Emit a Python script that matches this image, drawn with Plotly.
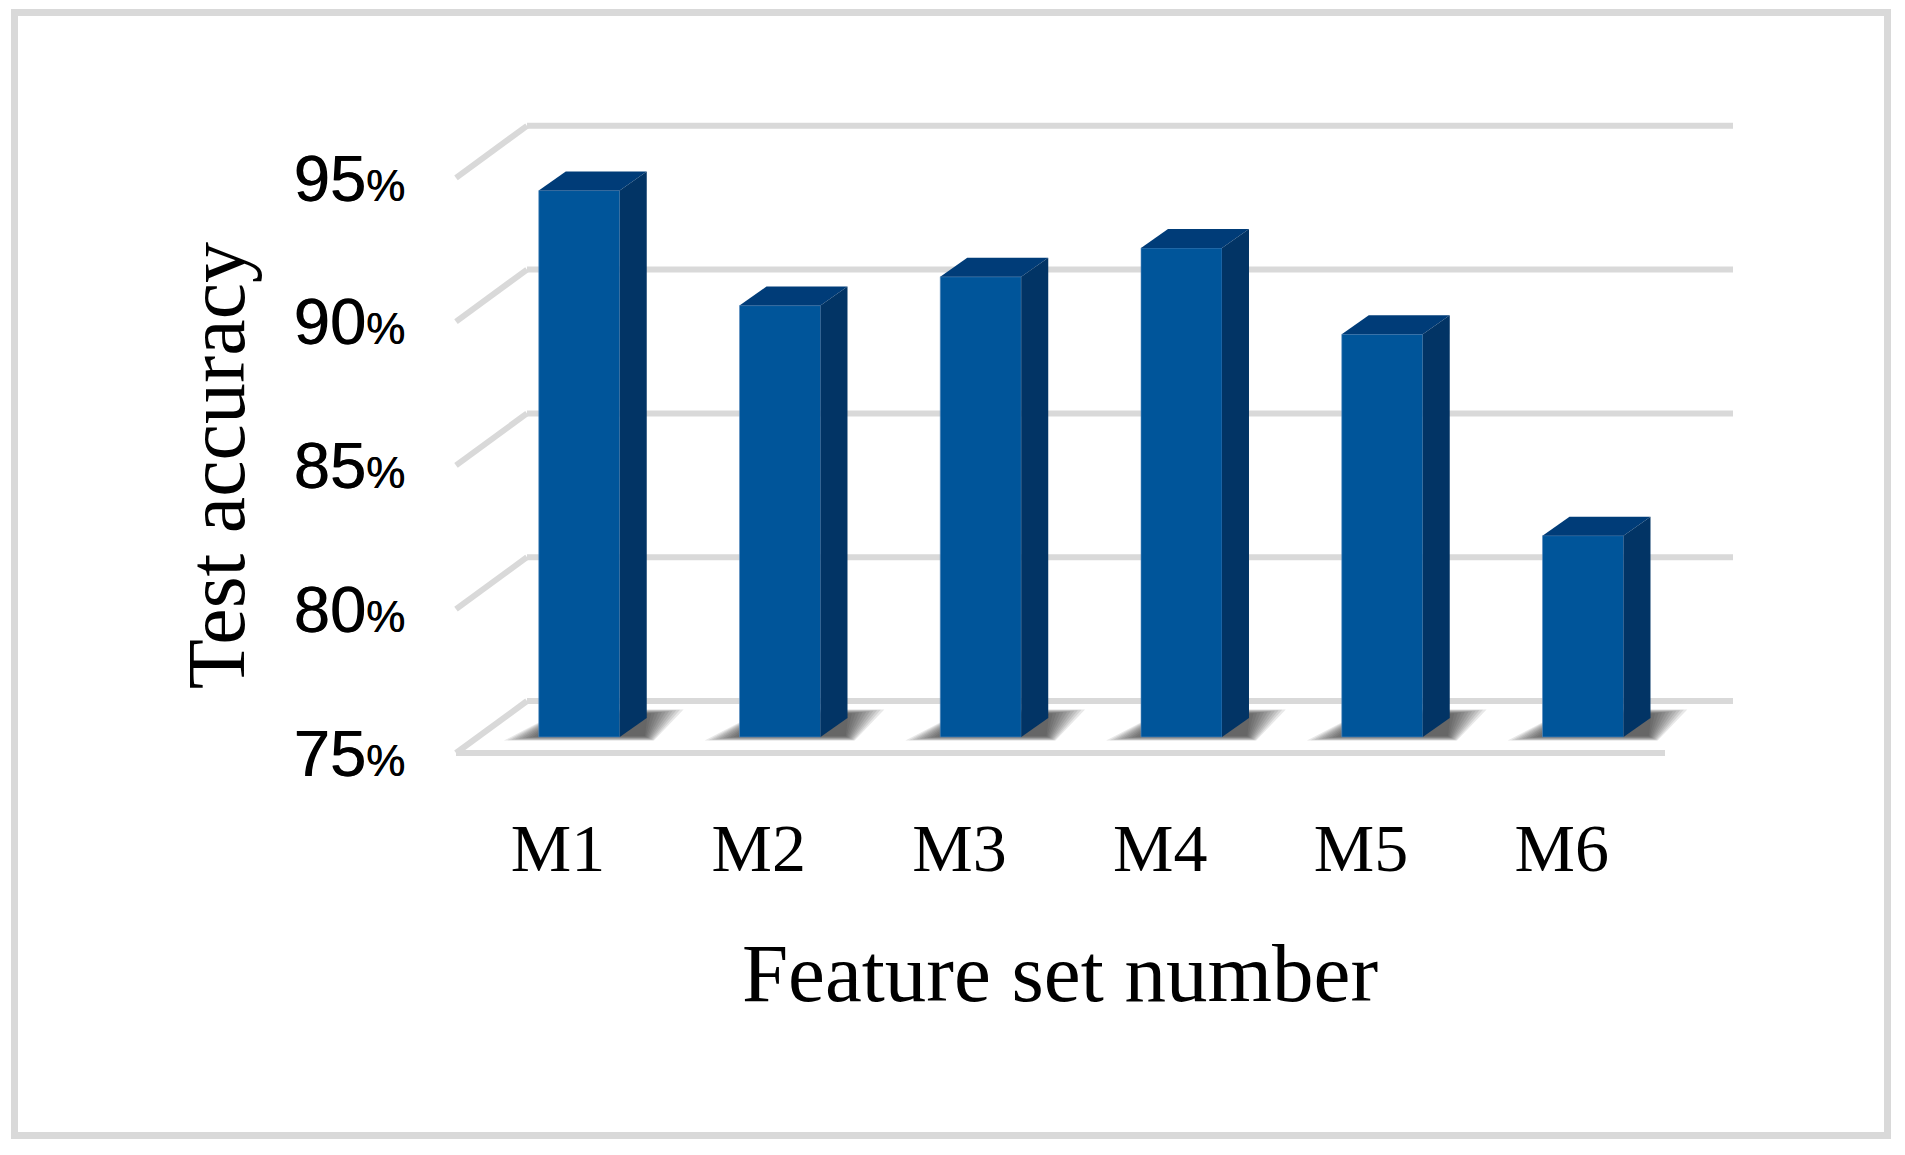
import plotly.graph_objects as go

categories = ["M1", "M2", "M3", "M4", "M5", "M6"]
accuracy = [94, 90, 91, 92, 89, 82]
tick_values = [75, 80, 85, 90, 95]
x_title = "Feature set number"
y_title = "Test accuracy"

W, H = 1905, 1155
L, R, T, B = 380, 1740, 100, 831
PX_X = 200.75      # pixels per category
PX_Y = 28.76       # pixels per percent
X0_PX, Y0_PX = 579.25, 737
BAR_W = 81 / PX_X
DX, DY = 27 / PX_X, 19 / PX_Y   # bar depth
BASE = 75

def xd(px):
    return (px - X0_PX) / PX_X

BACK = 36 / PX_Y
FRONT = -16 / PX_Y
GRID, BLUE, TOP, SIDE = "#d9d9d9", "#00559a", "#003c78", "#023465"

x_range = [xd(L), xd(R)]
y_range = [BASE + (Y0_PX - B) / PX_Y, BASE + (Y0_PX - T) / PX_Y]
xt_shift = (579.25 - 558) / PX_X
x2_range = [x_range[0] + xt_shift, x_range[1] + xt_shift]
y2_range = [y_range[0] - FRONT, y_range[1] - FRONT]
xs = list(range(len(categories)))

def poly(pts, fill, layer="above", opacity=1):
    path = "M " + " L ".join(f"{a:.4f},{b:.4f}" for a, b in pts) + " Z"
    return dict(type="path", path=path, xref="x", yref="y", fillcolor=fill,
                line=dict(width=0), layer=layer, opacity=opacity)

def line(x0, y0, x1, y1):
    return dict(type="line", xref="x", yref="y", x0=x0, y0=y0, x1=x1, y1=y1,
                line=dict(color=GRID, width=6), layer="below")

shapes = [dict(type="rect", xref="paper", yref="paper", x0=14.5 / W, x1=1887.5 / W,
               y0=1 - 1135.5 / H, y1=1 - 12.5 / H, line=dict(color=GRID, width=7),
               fillcolor="rgba(0,0,0,0)", layer="below")]

xl_front, xl_back, xr_back, xr_floor = xd(456), xd(527), xd(1733), xd(1665)
for v in tick_values:
    shapes.append(line(xl_back, v + BACK, xr_back, v + BACK))
    shapes.append(line(xl_front, v + FRONT, xl_back, v + BACK))
shapes.append(line(xl_front, BASE + FRONT, xr_floor, BASE + FRONT))

# soft floor shadows: many nested, faint layers build up a blur
sh_h = 24 / PX_Y
spreads = [24, 21, 18, 15, 12, 9, 6, 3, 0, -3, -6]
for x, v in zip(xs, accuracy):
    left, right = x - BAR_W / 2, x + BAR_W / 2
    for spread in spreads:
        sx = spread / PX_X
        sy = spread * 0.15 / PX_Y
        shapes.append(poly([
            (left - 6 / PX_X - sx * 1.2, BASE - sy),
            (right + DX + sx * 0.3, BASE - sy),
            (right + DX + 8 / PX_X + sx * 1.2, BASE + sh_h + sy),
            (left + 25 / PX_X, BASE + sh_h + sy),
        ], "#2e2e2e", layer="below", opacity=0.11))

# bar depth faces
for x, v in zip(xs, accuracy):
    left, right = x - BAR_W / 2, x + BAR_W / 2
    shapes.append(poly([(left, v), (right, v), (right + DX, v + DY), (left + DX, v + DY)], TOP))
    shapes.append(poly([(right, BASE), (right, v), (right + DX, v + DY), (right + DX, BASE + DY)], SIDE))

fig = go.Figure()
fig.add_trace(go.Bar(x=xs, y=[v - BASE for v in accuracy], base=BASE, width=BAR_W,
                     marker=dict(color=BLUE, line=dict(width=1, color="rgba(90,140,190,0.6)")),
                     xaxis="x", yaxis="y", hoverinfo="skip", showlegend=False))
# invisible carrier that keeps the label axes alive
fig.add_trace(go.Scatter(x=xs, y=accuracy, mode="markers", marker=dict(opacity=0),
                         xaxis="x2", yaxis="y2", hoverinfo="skip", showlegend=False))

SERIF, SANS = "Liberation Serif", "Liberation Sans"
tick_text = [f'{v}<span style="font-size:44px">%</span>' for v in tick_values]

fig.update_layout(
    width=W, height=H, paper_bgcolor="white", plot_bgcolor="rgba(0,0,0,0)",
    margin=dict(l=0, r=0, t=0, b=0), showlegend=False, shapes=shapes,
    xaxis=dict(domain=[L / W, R / W], range=x_range, visible=False, anchor="y", fixedrange=True),
    yaxis=dict(domain=[1 - B / H, 1 - T / H], range=y_range, visible=False, anchor="x", fixedrange=True),
    xaxis2=dict(domain=[L / W, R / W], range=x2_range, overlaying="x", anchor="free",
                position=1 - 802 / H, side="bottom", tickmode="array", tickvals=xs, ticktext=categories,
                tickfont=dict(family=SERIF, size=68, color="black"), showgrid=False, showline=False,
                ticks="", zeroline=False, fixedrange=True,
                title=dict(text=x_title, font=dict(family=SERIF, size=83, color="black"), standoff=57)),
    yaxis2=dict(domain=[1 - B / H, 1 - T / H], range=y2_range, overlaying="y", anchor="free",
                position=405 / W, side="left", tickmode="array", tickvals=tick_values, ticktext=tick_text,
                tickfont=dict(family=SANS, size=65, color="black", shadow="0.7px 0 0 black"),
                showgrid=False, showline=False, ticks="", zeroline=False, fixedrange=True,
                title=dict(text=y_title, font=dict(family=SERIF, size=82, color="black"), standoff=20)),
)

fig.write_html("out.html", config=dict(displayModeBar=False),
               post_script="document.body.style.margin='0';document.body.style.overflow='hidden';")
